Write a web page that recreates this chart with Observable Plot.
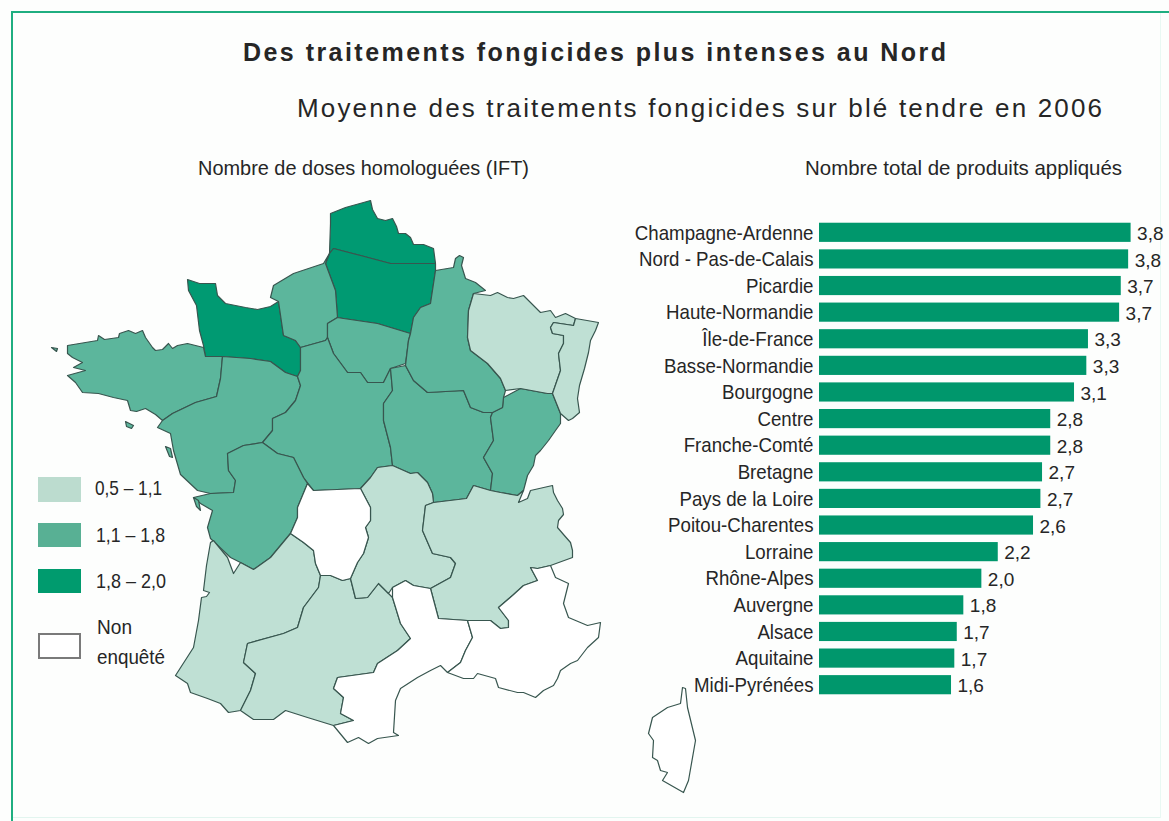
<!DOCTYPE html>
<html lang="fr">
<head>
<meta charset="utf-8">
<script src="https://cdn.jsdelivr.net/npm/d3@7"></script>
<script src="https://cdn.jsdelivr.net/npm/@observablehq/plot@0.6"></script>
<style>
html,body{margin:0;padding:0;background:#fdfefd}
#page{position:relative;width:1169px;height:821px;overflow:hidden}
.rule{position:absolute}
.t{position:absolute;white-space:nowrap;color:#262626;line-height:1;transform-origin:0 50%}
.sw{position:absolute;box-sizing:border-box}
svg{position:absolute;background:transparent}
</style>
</head>
<body>
<div id="page">
<div class="rule" style="left:11px;top:11px;width:2px;height:810px;background:#1fae80"></div>
<div class="rule" style="left:11px;top:11px;width:1158px;height:2px;background:#1fae80"></div>
<div class="rule" style="left:13px;top:817px;width:1147px;height:1px;background:#e2f5ef"></div>
<div class="rule" style="left:1160px;top:13px;width:1px;height:805px;background:#e9f8f3"></div>
</div>
<script>
// ---- bar chart data
const regions = ["Champagne-Ardenne","Nord - Pas-de-Calais","Picardie","Haute-Normandie","Île-de-France","Basse-Normandie","Bourgogne","Centre","Franche-Comté","Bretagne","Pays de la Loire","Poitou-Charentes","Lorraine","Rhône-Alpes","Auvergne","Alsace","Aquitaine","Midi-Pyrénées"];
const barValues = [3.80,3.77,3.68,3.66,3.28,3.26,3.11,2.82,2.82,2.72,2.70,2.61,2.18,1.98,1.76,1.68,1.65,1.61];
const barLabels = ["3,8","3,8","3,7","3,7","3,3","3,3","3,1","2,8","2,8","2,7","2,7","2,6","2,2","2,0","1,8","1,7","1,7","1,6"];

// ---- legend
const classes = ["0,5 – 1,1","1,1 – 1,8","1,8 – 2,0","Non enquêté"];
const classColors = ["#bfe0d4","#5cb69c","#009a72","#ffffff"];
const swatchColors = ["#bcdccf","#58b094","#009b6e","#ffffff"];

// ---- map outlines (map units)
const basseNormandie = [[187,279],[199,283],[215,283],[217,295],[225,303],[245,307],[257,309],[270,306],[278,301],[283,335],[295,340],[300,347],[300,355],[300,370],[297,376],[285,372],[270,361],[250,358],[222,356],[205,356],[203,345],[199,330],[196,305],[188,290]];
const hauteNormandie = [[270,297],[273,285],[293,273],[323,263],[329,253],[325,263],[335,290],[337,317],[327,323],[327,337],[325,340],[300,347],[295,340],[283,335],[278,301]];
const bretagne = [[67,345],[85,342],[97,340],[98,335],[104,339],[118,337],[119,333],[128,330],[135,333],[142,330],[145,337],[152,347],[155,350],[162,349],[168,343],[172,348],[177,345],[187,343],[203,347],[205,356],[222,356],[220,378],[216,396],[195,402],[172,413],[162,420],[155,414],[145,408],[136,411],[130,410],[127,400],[113,397],[98,393],[82,392],[75,382],[67,375],[85,370],[73,367],[82,362],[72,357],[67,353]];
const paysLoire = [[222,356],[250,358],[270,361],[285,372],[297,376],[300,385],[295,400],[285,412],[272,418],[272,430],[262,442],[243,445],[227,453],[228,470],[235,480],[233,492],[210,493],[197,490],[180,474],[173,450],[170,433],[157,427],[162,420],[172,413],[195,402],[216,396],[220,378]];
const nordPasCalais = [[330,213],[345,207],[363,202],[370,200],[372,209],[377,218],[385,220],[392,218],[396,226],[398,233],[405,233],[410,237],[413,244],[423,244],[433,248],[435,263],[390,263],[360,255],[333,248],[329,253],[330,223]];
const picardie = [[333,248],[360,255],[390,263],[435,263],[435,270],[430,303],[420,307],[413,317],[410,333],[400,330],[377,323],[343,318],[337,317],[335,290],[325,263],[329,253]];
const ileDeFrance = [[327,323],[337,317],[343,318],[377,323],[400,330],[410,333],[408,340],[405,363],[390,368],[383,382],[367,382],[360,372],[347,372],[333,353],[327,337]];
const centre = [[300,347],[325,340],[327,337],[333,353],[347,372],[360,372],[367,382],[383,382],[390,368],[392,390],[383,403],[383,420],[390,447],[392,465],[377,467],[370,477],[360,488],[313,490],[303,477],[293,457],[277,453],[262,442],[272,430],[272,418],[285,412],[295,400],[300,385],[297,376],[300,370],[300,355]];
const bourgogne = [[390,368],[405,365],[413,380],[427,392],[463,390],[470,407],[483,412],[492,412],[490,417],[493,440],[483,457],[492,473],[490,490],[473,485],[466,498],[433,502],[432,493],[427,482],[417,472],[410,473],[392,465],[390,447],[383,420],[383,403],[392,390]];
const francheComte = [[492,412],[502,407],[503,397],[520,388],[547,393],[552,393],[560,413],[560,423],[555,430],[548,440],[540,450],[535,455],[533,465],[527,475],[523,490],[517,495],[500,492],[490,490],[492,473],[483,457],[493,440],[490,417]];
const champagne = [[435,270],[453,267],[455,258],[459,255],[463,257],[461,265],[465,278],[475,282],[485,290],[473,293],[468,310],[467,337],[470,350],[487,363],[500,378],[505,390],[503,397],[502,407],[492,412],[483,412],[470,407],[463,390],[427,392],[413,380],[405,365],[408,340],[410,333],[413,317],[420,307],[430,303]];
const lorraine = [[473,293],[490,295],[497,292],[507,297],[513,298],[523,295],[533,305],[540,312],[550,310],[555,317],[565,313],[575,318],[573,325],[553,322],[550,327],[552,333],[563,335],[563,343],[558,353],[560,370],[552,393],[547,393],[520,388],[505,390],[500,378],[487,363],[470,350],[467,337],[468,310]];
const alsace = [[575,318],[598,322],[595,330],[590,340],[588,352],[584,368],[579,385],[577,398],[579,412],[572,418],[568,420],[560,413],[552,393],[560,370],[558,353],[563,343],[563,335],[552,333],[550,327],[553,322],[573,325]];
const poitou = [[210,493],[233,492],[235,480],[228,470],[227,453],[243,445],[262,442],[277,453],[293,457],[303,477],[307,483],[297,507],[297,517],[290,533],[270,557],[253,569],[240,562],[230,557],[210,538],[207,527],[212,510],[200,503],[193,497]];
const limousin = [[307,483],[313,490],[360,488],[370,507],[370,520],[365,527],[368,537],[363,553],[357,562],[350,578],[342,580],[330,575],[320,575],[315,563],[313,550],[303,542],[290,533],[297,517],[297,507]];
const auvergne = [[360,488],[370,477],[377,467],[392,465],[410,473],[417,472],[427,482],[432,493],[433,502],[425,505],[422,530],[432,553],[450,557],[455,563],[450,577],[430,588],[413,585],[405,580],[392,587],[388,593],[378,583],[367,597],[355,598],[350,578],[357,562],[363,553],[368,537],[365,527],[370,520],[370,507]];
const rhoneAlpes = [[425,505],[433,502],[466,498],[473,485],[490,490],[500,492],[517,495],[523,490],[518,502],[527,498],[530,490],[552,485],[553,492],[557,500],[562,508],[563,514],[558,520],[557,527],[563,534],[570,542],[572,550],[572,557],[550,565],[537,568],[530,567],[537,580],[523,585],[512,595],[498,607],[508,620],[508,627],[500,628],[490,620],[467,620],[438,618],[430,588],[450,577],[455,563],[450,557],[432,553],[422,530]];
const aquitaine = [[210,542],[206,565],[203,590],[209,592],[206,596],[201,597],[198,620],[193,647],[175,675],[187,683],[190,692],[207,698],[220,703],[228,712],[240,710],[250,690],[255,673],[243,662],[247,643],[283,633],[297,627],[303,607],[318,587],[320,575],[315,563],[313,550],[303,542],[290,533],[270,557],[253,569],[240,562],[233,573],[227,557],[213,540]];
const midiPyrenees = [[320,575],[330,575],[342,580],[350,578],[355,598],[367,597],[378,583],[388,593],[392,597],[400,623],[410,638],[397,650],[377,663],[373,672],[337,677],[333,688],[343,697],[340,713],[353,720],[333,725],[307,717],[285,710],[273,719],[253,719],[240,710],[250,690],[255,673],[243,662],[247,643],[283,633],[297,627],[303,607],[318,587]];
const languedoc = [[392,587],[405,580],[413,585],[430,588],[438,618],[467,620],[472,637],[465,650],[460,662],[447,672],[440,665],[430,670],[417,677],[400,688],[395,700],[393,732],[398,735],[377,738],[368,743],[358,737],[347,742],[333,725],[353,720],[340,713],[343,697],[333,688],[337,677],[373,672],[377,663],[397,650],[410,638],[400,623],[392,597]];
const paca = [[467,620],[490,620],[500,628],[508,627],[508,620],[498,607],[512,595],[523,585],[537,580],[530,567],[537,568],[550,565],[555,577],[568,583],[563,603],[568,617],[587,625],[600,622],[598,637],[587,647],[577,660],[570,663],[560,670],[557,678],[553,685],[543,690],[535,697],[523,692],[517,692],[498,687],[495,678],[477,673],[473,678],[463,678],[447,672],[460,662],[465,650],[472,637]];
const corse = [[682,687],[680,703],[667,707],[652,717],[648,733],[653,740],[652,757],[657,760],[660,770],[667,772],[662,780],[683,792],[688,780],[695,740],[687,707],[685,688]];
// islands
const ouessant = [[51,347],[57,348],[56,351]];
const belleIle = [[125,421],[133,425],[131,428],[126,426]];
const noirmoutier = [[165,446],[170,448],[172,457],[169,456]];
const oleron = [[193,497],[198,500],[200,510],[196,506]];

const mapRegions = [
  [basseNormandie,2],[nordPasCalais,2],[picardie,2],
  [hauteNormandie,1],[bretagne,1],[paysLoire,1],[ileDeFrance,1],[centre,1],[bourgogne,1],[francheComte,1],[champagne,1],[poitou,1],
  [lorraine,0],[alsace,0],[aquitaine,0],[midiPyrenees,0],[auvergne,0],[rhoneAlpes,0],
  [limousin,3],[languedoc,3],[paca,3],[corse,3],
  [ouessant,1],[belleIle,1],[noirmoutier,1],[oleron,1]
];

// ---- assembling
const page = document.getElementById("page");
const features = mapRegions.map(([r,c]) => ({type:"Feature",properties:{cls:classes[c]},geometry:{type:"Polygon",coordinates:[r.concat([r[0]])]}}));

const map = Plot.plot({
  width:720,height:821,margin:0,
  projection:{type:"identity"},
  color:{type:"ordinal",domain:classes,range:classColors},
  marks:[Plot.geo(features,{fill:d=>d.properties.cls,stroke:"#38564f",strokeWidth:1.2})]
});
map.style.left="0";map.style.top="0";
page.appendChild(map);

const rows = regions.map((name,i)=>({name,value:barValues[i],label:barLabels[i]}));
const bars = Plot.plot({
  width:550,height:479,marginLeft:200,marginRight:22,marginTop:0,marginBottom:0,
  style:{fontFamily:"'Liberation Sans',sans-serif",color:"#262626",background:"transparent"},
  x:{domain:[0,4],axis:null},
  y:{domain:regions,paddingInner:0.28,paddingOuter:0.14,round:false,label:null,axis:null},
  marks:[
    Plot.axisY({tickSize:0,tickPadding:6,fontSize:21,label:null}),
    Plot.barX(rows,{x:"value",y:"name",fill:"#00976c"}),
    Plot.text(rows,{x:"value",y:"name",text:"label",dx:6,dy:1,textAnchor:"start",fill:"#262626",fontSize:19})
  ]
});
bars.style.left="619px";bars.style.top="219px";
page.appendChild(bars);
// the source face is condensed: squeeze the region names
bars.querySelectorAll('g[aria-label="y-axis tick label"] text').forEach(t=>{
  t.setAttribute("textLength",t.getComputedTextLength()*0.89);
  t.setAttribute("lengthAdjust","spacingAndGlyphs");
});

// text fitted between two x positions
function put(text,x0,x1,yc,font,weight,spaced){
  const s=document.createElement("span");
  s.className="t";s.textContent=text;s.style.font=`${weight||"normal"} ${font}`;s.style.left=x0+"px";
  page.appendChild(s);
  const r=s.getBoundingClientRect();
  if(spaced) s.style.letterSpacing=((x1-x0-r.width)/(text.length-1))+"px";
  else s.style.transform=`scaleX(${(x1-x0)/r.width})`;
  s.style.top=(yc-r.height/2)+"px";
}
put("Des traitements fongicides plus intenses au Nord",243,946,52,"25px 'Liberation Sans'","bold",true);
put("Moyenne des traitements fongicides sur blé tendre en 2006",297,1102,108,"26px 'Liberation Sans'","normal",true);
put("Nombre de doses homologuées (IFT)",198,529,168,"21px 'Liberation Sans'");
put("Nombre total de produits appliqués",805,1122,168,"21px 'Liberation Sans'");

// legend
const swY=[477,523,569,633], swH=[25,24,24,26];
classes.forEach((c,i)=>{
  const d=document.createElement("div");d.className="sw";
  d.style.cssText+=`left:38px;top:${swY[i]}px;width:43px;height:${swH[i]}px;background:${swatchColors[i]};`+(i==3?"border:2px solid #7a7a7a;":"");
  page.appendChild(d);
});
put(classes[0],95,162,488,"21px 'Liberation Sans'");
put(classes[1],96,165,535,"21px 'Liberation Sans'");
put(classes[2],96,166,581,"21px 'Liberation Sans'");
put("Non",97,132,627,"21px 'Liberation Sans'");
put("enquêté",97,165,657,"21px 'Liberation Sans'");
</script>
</body>
</html>
